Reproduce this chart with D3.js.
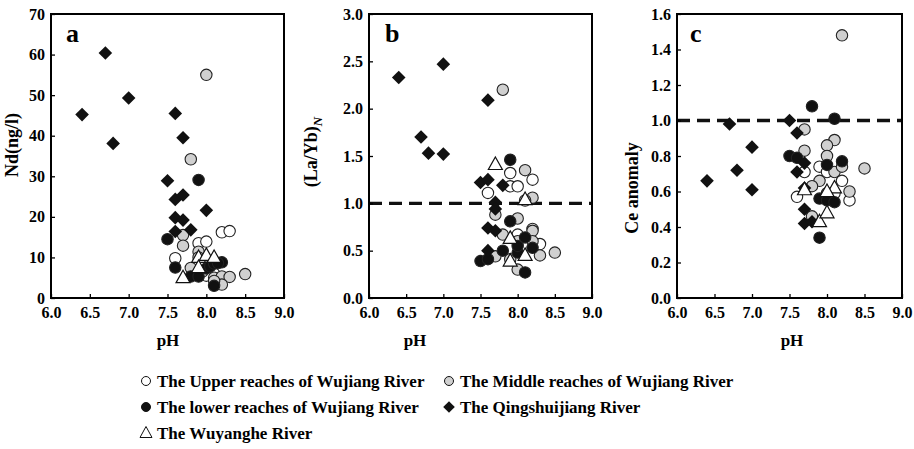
<!DOCTYPE html>
<html>
<head>
<meta charset="utf-8">
<script src="https://cdn.jsdelivr.net/npm/d3@7"></script>
<style>
  body { margin: 0; background: #fff; }
  text { font-family: "Liberation Serif", "DejaVu Serif", serif; font-weight: bold; }
</style>
</head>
<body>
<svg id="chart" width="914" height="449"></svg>
<script>
// ---- data: [pH, value] ----
var phTicks = [6.0, 6.5, 7.0, 7.5, 8.0, 8.5, 9.0];

var upperA  = [[7.6,9.8],[7.9,13.5],[8.0,13.9],[8.2,16.2],[8.3,16.5],[7.9,8.2],[8.1,6.0],[8.0,5.5]];
var middleA = [[8.0,55.0],[7.8,34.2],[7.7,15.5],[7.7,12.9],[7.9,11.4],[7.9,10.0],[7.8,7.4],[8.1,5.0],[8.2,5.3],[8.3,5.2],[8.5,5.9],[8.2,3.3],[8.1,4.2],[7.95,6.5]];
var lowerA  = [[7.9,29.1],[7.5,14.5],[7.6,7.5],[7.8,5.3],[7.9,5.3],[8.0,7.3],[8.05,7.8],[8.1,8.5],[8.2,8.8],[8.15,8.6],[8.1,3.0]];
var qingA   = [[6.4,45.2],[6.7,60.4],[6.8,38.1],[7.0,49.3],[7.6,45.5],[7.7,39.5],[7.5,28.9],[7.6,24.3],[7.7,25.4],[8.0,21.6],[7.6,19.8],[7.7,19.2],[7.6,16.4],[7.8,16.8]];
var wuyA    = [[7.7,5.0],[7.9,10.0],[8.0,10.5],[8.1,10.0],[7.9,7.5]];

var upperB  = [[7.6,1.11],[7.9,1.32],[7.9,1.18],[8.0,1.18],[8.2,1.25],[8.3,0.57],[8.2,0.73],[8.0,0.67]];
var middleB = [[7.8,2.20],[8.1,1.35],[8.2,1.06],[8.1,1.03],[7.7,0.88],[8.0,0.84],[7.8,0.67],[8.2,0.71],[8.2,0.60],[8.0,0.60],[7.7,0.44],[8.3,0.45],[8.5,0.48],[7.9,0.41],[8.0,0.30]];
var lowerB  = [[7.9,1.46],[7.9,0.81],[8.1,0.64],[8.2,0.53],[7.8,0.50],[8.0,0.48],[7.5,0.39],[7.6,0.41],[8.1,0.27],[8.0,0.55]];
var qingB   = [[6.4,2.33],[7.0,2.47],[6.7,1.70],[6.8,1.53],[7.0,1.52],[7.6,2.09],[7.5,1.22],[7.6,1.25],[7.8,1.19],[7.7,1.01],[7.7,0.94],[7.6,0.74],[7.7,0.71],[7.6,0.50]];
var wuyB    = [[7.7,1.41],[8.1,1.04],[7.9,0.63],[7.9,0.39],[8.1,0.45]];

var upperC  = [[7.6,0.57],[7.9,0.74],[7.7,0.71],[8.2,0.66],[8.3,0.55],[8.1,0.59],[8.0,0.71]];
var middleC = [[8.2,1.48],[7.7,0.95],[7.7,0.83],[8.1,0.89],[8.0,0.86],[8.0,0.80],[8.5,0.73],[8.1,0.71],[7.9,0.66],[7.8,0.63],[8.3,0.60],[8.0,0.59],[7.8,0.46],[8.2,0.74]];
var lowerC  = [[7.8,1.08],[8.1,1.01],[7.5,0.80],[7.6,0.79],[8.0,0.75],[8.2,0.77],[7.9,0.56],[8.0,0.55],[8.1,0.54],[7.9,0.34]];
var qingC   = [[6.4,0.66],[6.7,0.98],[6.8,0.72],[7.0,0.85],[7.0,0.61],[7.5,1.00],[7.6,0.93],[7.6,0.71],[7.7,0.76],[7.7,0.62],[7.7,0.50],[7.7,0.42],[7.8,0.43]];
var wuyC    = [[7.9,0.43],[8.0,0.48],[8.1,0.62],[8.0,0.60],[7.7,0.61]];

var legendLabels = [
  "The Upper reaches of Wujiang River",
  "The Middle reaches of Wujiang River",
  "The lower reaches of Wujiang River",
  "The Qingshuijiang River",
  "The Wuyanghe River"
];

// ---- drawing ----
var svg = d3.select("#chart");

var diamondPath = "M0,-6.8L6.8,0L0,6.8L-6.8,0Z";
var trianglePath = "M0,-7.5L7,5L-7,5Z";

function Panel(opts){
  this.left = opts.left; this.right = opts.right;
  this.top = 14; this.bottom = 298;
  this.x = d3.scaleLinear().domain([6, 9]).range([this.left, this.right]);
  this.y = d3.scaleLinear().domain(opts.yDomain).range([this.bottom, this.top]);
  this.opts = opts;
}

Panel.prototype.draw = function(){
  var p = this, o = this.opts;
  var g = svg.append("g");

  // reference line
  if (o.refLine != null) {
    g.append("line")
      .attr("x1", p.x(6)).attr("x2", p.x(9))
      .attr("y1", p.y(o.refLine)).attr("y2", p.y(o.refLine))
      .attr("stroke", "#111").attr("stroke-width", 3.4)
      .attr("stroke-dasharray", "13,7");
  }

  var xAxis = d3.axisBottom(p.x).tickValues(phTicks).tickFormat(d3.format(".1f"))
    .tickSizeInner(-4).tickSizeOuter(0).tickPadding(9);
  var yAxis = d3.axisLeft(p.y).tickValues(o.yTicks).tickFormat(o.yFormat)
    .tickSizeInner(-4).tickSizeOuter(0).tickPadding(6);

  var gx = g.append("g").attr("transform", "translate(0," + p.bottom + ")").call(xAxis);
  var gy = g.append("g").attr("transform", "translate(" + p.left + ",0)").call(yAxis);
  [gx, gy].forEach(function(a){
    a.select(".domain").remove();
    a.selectAll("line").attr("stroke", "#000").attr("stroke-width", 1.3);
    a.selectAll("text").attr("font-size", 16).attr("fill", "#000")
      .attr("font-family", "Liberation Serif").attr("font-weight", "bold");
  });

  // frame
  g.append("rect")
    .attr("x", p.left).attr("y", p.top)
    .attr("width", p.right - p.left).attr("height", p.bottom - p.top)
    .attr("fill", "none").attr("stroke", "#000").attr("stroke-width", 2);

  var circles = function(data, fill){
    g.append("g").selectAll("circle").data(data).enter().append("circle")
      .attr("cx", function(d){ return p.x(d[0]); })
      .attr("cy", function(d){ return p.y(d[1]); })
      .attr("r", 5.7)
      .attr("fill", fill).attr("stroke", "#222").attr("stroke-width", 1.1);
  };
  var shapes = function(data, path, fill){
    g.append("g").selectAll("path").data(data).enter().append("path")
      .attr("d", path)
      .attr("transform", function(d){ return "translate(" + p.x(d[0]) + "," + p.y(d[1]) + ")"; })
      .attr("fill", fill).attr("stroke", fill == "#fff" ? "#111" : "none").attr("stroke-width", 1.2);
  };

  circles(o.upper, "#fff");
  circles(o.middle, "#d0d0d0");
  circles(o.lower, "#111");
  shapes(o.qing, diamondPath, "#111");
  shapes(o.wuy, trianglePath, "#fff");

  // panel letter
  g.append("text").attr("x", p.left + o.letterDx).attr("y", 42)
    .attr("font-size", 26).text(o.letter);

  // axis titles
  g.append("text").attr("x", o.phX).attr("y", 346)
    .attr("text-anchor", "middle").attr("font-size", 17).text("pH");

  var yt = g.append("text")
    .attr("transform", "translate(" + o.titleX + "," + o.titleY + ") rotate(-90)")
    .attr("text-anchor", "middle").attr("font-size", 18);
  if (o.title == "LaYb") {
    yt.append("tspan").text("(La/Yb)");
    yt.append("tspan").attr("dy", 5).attr("font-size", 13).attr("font-style", "italic").text("N");
  } else {
    yt.text(o.title);
  }
};

var panels = [
  new Panel({ left: 51, right: 284, yDomain: [0, 70], yTicks: d3.range(0, 71, 10), yFormat: d3.format("d"),
    upper: upperA, middle: middleA, lower: lowerA, qing: qingA, wuy: wuyA,
    letter: "a", letterDx: 15, phX: 168, title: "Nd(ng/l)", titleX: 18, titleY: 145 }),
  new Panel({ left: 369, right: 592, yDomain: [0, 3], yTicks: d3.range(0, 3.01, 0.5), yFormat: d3.format(".1f"),
    upper: upperB, middle: middleB, lower: lowerB, qing: qingB, wuy: wuyB, refLine: 1.0,
    letter: "b", letterDx: 16, phX: 415, title: "LaYb", titleX: 317, titleY: 152 }),
  new Panel({ left: 677, right: 902, yDomain: [0, 1.6], yTicks: d3.range(0, 1.61, 0.2), yFormat: d3.format(".1f"),
    upper: upperC, middle: middleC, lower: lowerC, qing: qingC, wuy: wuyC, refLine: 1.0,
    letter: "c", letterDx: 13, phX: 792, title: "Ce anomaly", titleX: 638, titleY: 188 })
];
panels.forEach(function(p){ p.draw(); });

// ---- legend ----
var legendPos = [[146, 381], [449, 381], [146, 407], [449, 407], [146, 433]];
var lg = svg.append("g");
legendLabels.forEach(function(label, i){
  var cx = legendPos[i][0], cy = legendPos[i][1];
  if (i < 3) {
    lg.append("circle").attr("cx", cx).attr("cy", cy).attr("r", 4.5)
      .attr("fill", ["#fff", "#d0d0d0", "#111"][i]).attr("stroke", "#111").attr("stroke-width", 1);
  } else if (i == 3) {
    lg.append("path").attr("d", "M0,-5.8L5.8,0L0,5.8L-5.8,0Z")
      .attr("transform", "translate(" + cx + "," + cy + ")").attr("fill", "#111");
  } else {
    lg.append("path").attr("d", "M0,-6.5L6,4.5L-6,4.5Z")
      .attr("transform", "translate(" + cx + "," + cy + ")").attr("fill", "#fff")
      .attr("stroke", "#111").attr("stroke-width", 1);
  }
  lg.append("text").attr("x", cx + 11).attr("y", cy + 6)
    .attr("font-size", 17).text(label);
});
</script>
</body>
</html>
